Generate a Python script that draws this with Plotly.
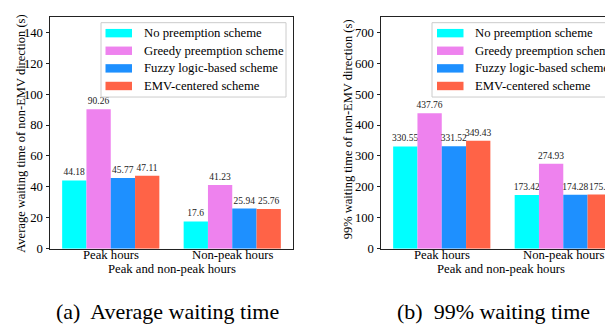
import plotly.graph_objects as go

categories = ["Peak hours", "Non-peak hours"]
schemes = ["No preemption scheme", "Greedy preemption scheme",
           "Fuzzy logic-based scheme", "EMV-centered scheme"]
colors = ["#00FFFF", "#EE82EE", "#1E90FF", "#FF6347"]

avg_no = [44.18, 17.6]
avg_greedy = [90.26, 41.23]
avg_fuzzy = [45.77, 25.94]
avg_emv = [47.11, 25.76]

p99_no = [330.55, 173.42]
p99_greedy = [437.76, 274.93]
p99_fuzzy = [331.52, 174.28]
p99_emv = [349.43, 175.0]

avg_ticks = [0, 20, 40, 60, 80, 100, 120, 140]
p99_ticks = [0, 100, 200, 300, 400, 500, 600, 700]

FONT = "Liberation Serif"
W, H = 613, 325
FS = 12.7

def px(x):
    return x / W

def py(y):
    return 1 - y / H

fig = go.Figure()

for vals, name, col in zip([avg_no, avg_greedy, avg_fuzzy, avg_emv], schemes, colors):
    fig.add_trace(go.Bar(x=categories, y=vals, name=name, marker_color=col,
                         marker_line_width=0, text=[str(v) for v in vals],
                         textposition="outside", cliponaxis=False, constraintext="none",
                         textfont=dict(family=FONT, size=9.5, color="#222"),
                         showlegend=False, xaxis="x", yaxis="y"))
for vals, name, col in zip([p99_no, p99_greedy, p99_fuzzy, p99_emv], schemes, colors):
    fig.add_trace(go.Bar(x=categories, y=vals, name=name, marker_color=col,
                         marker_line_width=0, text=[str(v) for v in vals],
                         textposition="outside", cliponaxis=False, constraintext="none",
                         textfont=dict(family=FONT, size=9.5, color="#222"),
                         showlegend=False, xaxis="x2", yaxis="y2"))

axis_common = dict(showgrid=False, zeroline=False, showline=True, linecolor="#222",
                   linewidth=1, tickcolor="#222",
                   tickfont=dict(family=FONT, size=FS, color="black"))
xcommon = dict(ticks="", showticklabels=False, categoryorder="array",
               categoryarray=categories, **axis_common)
ycommon = dict(ticks="outside", ticklen=3.5, **axis_common)

ydom = [py(246), py(9)]
fig.update_layout(
    width=W, height=H, margin=dict(l=0, r=0, t=0, b=0),
    paper_bgcolor="white", plot_bgcolor="white",
    barmode="group", bargap=0.2, bargroupgap=0,
    xaxis=dict(domain=[px(42), px(285)], range=[-0.5, 1.5], mirror=True,
               anchor="y", **xcommon),
    yaxis=dict(domain=ydom, range=[0, 150], tickvals=avg_ticks, mirror=True,
               anchor="x", **ycommon),
    xaxis2=dict(domain=[px(373), 1.0], range=[-0.5, 1.475], mirror=True,
                anchor="y2", **xcommon),
    yaxis2=dict(domain=ydom, range=[0, 750], tickvals=p99_ticks, mirror=False,
                anchor="x2", **ycommon),
)

ann = []
# category tick labels (placed on the category axis)
for xr in ["x", "x2"]:
    for cat in categories:
        ann.append(dict(text=cat, xref=xr, x=cat, y=py(252.5),
                        font=dict(family=FONT, size=FS, color="black")))
# axis titles
ann.append(dict(text="Average waiting time of non-EMV direction (s)", x=px(13), y=py(128.5),
                textangle=-90, font=dict(family=FONT, size=12.5, color="black")))
ann.append(dict(text="99% waiting time of non-EMV direction (s)", x=px(340), y=py(124),
                textangle=-90, font=dict(family=FONT, size=12.5, color="black")))
ann.append(dict(text="Peak and non-peak hours", x=px(163.5), y=py(267),
                font=dict(family=FONT, size=FS, color="black")))
ann.append(dict(text="Peak and non-peak hours", x=px(493), y=py(267),
                font=dict(family=FONT, size=FS, color="black")))
# captions
ann.append(dict(text="(a)  Average waiting time", x=px(159.5), y=py(310),
                font=dict(family=FONT, size=22, color="black")))
ann.append(dict(text="(b)  99% waiting time", x=px(485), y=py(310),
                font=dict(family=FONT, size=22, color="black")))

shapes = []
# legends
rows = [25.7, 43.7, 61.7, 79.7]
for (bx0, bx1, patch_x0, text_x) in [(93, 278, 97.5, 134), (424, 609, 429, 465)]:
    shapes.append(dict(type="rect", xref="paper", yref="paper",
                       x0=px(bx0), x1=px(bx1), y0=py(91), y1=py(15),
                       line=dict(color="#cccccc", width=1), fillcolor="rgba(255,255,255,0.8)"))
    for ry, name, col in zip(rows, schemes, colors):
        shapes.append(dict(type="rect", xref="paper", yref="paper",
                           x0=px(patch_x0), x1=px(patch_x0 + 26.5),
                           y0=py(ry + 4.3), y1=py(ry - 4.3),
                           line=dict(width=0), fillcolor=col))
        ann.append(dict(text=name, x=px(text_x), y=py(ry), xanchor="left",
                        font=dict(family=FONT, size=FS, color="black")))

for a in ann:
    a.setdefault("xref", "paper")
    a.setdefault("yref", "paper")
    a.setdefault("showarrow", False)
    a.setdefault("xanchor", "center")
    a.setdefault("yanchor", "middle")

fig.update_layout(annotations=ann, shapes=shapes)

fig.write_html("out.html")
